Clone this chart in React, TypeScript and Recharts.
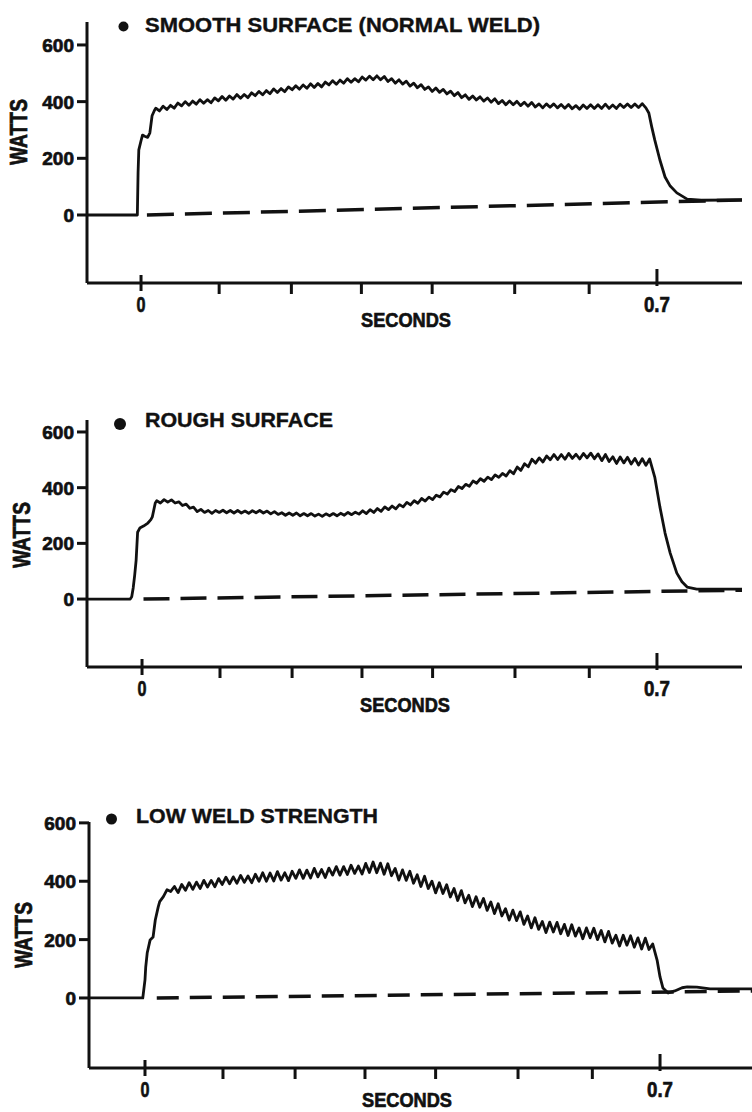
import React from "react";
import { LineChart, Line, XAxis, YAxis, Legend } from "recharts";

// sample grid of the rippling part of every trace (seconds)
const rippleTimes = [
  0.02, 0.025, 0.03, 0.035, 0.04, 0.045, 0.05, 0.055, 0.06, 0.065,
  0.07, 0.075, 0.08, 0.085, 0.09, 0.095, 0.1, 0.105, 0.11, 0.115,
  0.12, 0.125, 0.13, 0.135, 0.14, 0.145, 0.15, 0.155, 0.16, 0.165,
  0.17, 0.175, 0.18, 0.185, 0.19, 0.195, 0.2, 0.205, 0.21, 0.215,
  0.22, 0.225, 0.23, 0.235, 0.24, 0.245, 0.25, 0.255, 0.26, 0.265,
  0.27, 0.275, 0.28, 0.285, 0.29, 0.295, 0.3, 0.305, 0.31, 0.315,
  0.32, 0.325, 0.33, 0.335, 0.34, 0.345, 0.35, 0.355, 0.36, 0.365,
  0.37, 0.375, 0.38, 0.385, 0.39, 0.395, 0.4, 0.405, 0.41, 0.415,
  0.42, 0.425, 0.43, 0.435, 0.44, 0.445, 0.45, 0.455, 0.46, 0.465,
  0.47, 0.475, 0.48, 0.485, 0.49, 0.495, 0.5, 0.505, 0.51, 0.515,
  0.52, 0.525, 0.53, 0.535, 0.54, 0.545, 0.55, 0.555, 0.56, 0.565,
  0.57, 0.575, 0.58, 0.585, 0.59, 0.595, 0.6, 0.605, 0.61, 0.615,
  0.62, 0.625, 0.63, 0.635, 0.64, 0.645, 0.65, 0.655, 0.66, 0.665,
  0.67, 0.675, 0.68, 0.685,
];

// --- smooth surface (normal weld)
const smoothStartTimes = [-0.0733, -0.005, -0.004, -0.003, 0.0, 0.002, 0.005, 0.009, 0.012, 0.015, 0.018];
const smoothStartWatts = [0, 0, 150, 230, 262, 282, 278, 274, 290, 350, 368];
const smoothWatts = [
  377, 367, 384, 372, 387, 377, 395, 385, 400, 387,
  402, 391, 407, 394, 407, 396, 413, 403, 418, 405,
  420, 409, 425, 412, 425, 414, 431, 421, 436, 424,
  439, 428, 445, 432, 446, 435, 452, 442, 456, 444,
  459, 447, 463, 450, 464, 452, 469, 459, 474, 461,
  476, 465, 481, 468, 481, 470, 487, 476, 490, 477,
  491, 477, 489, 471, 481, 465, 477, 462, 472, 455,
  465, 449, 460, 443, 452, 436, 448, 433, 443, 427,
  437, 421, 432, 414, 424, 408, 420, 406, 417, 402,
  413, 398, 410, 393, 404, 389, 402, 389, 401, 386,
  398, 384, 397, 381, 392, 378, 392, 380, 392, 378,
  390, 377, 390, 375, 386, 373, 388, 376, 389, 376,
  389, 376, 391, 376, 388, 376, 391, 379, 392, 379,
  392, 379, 393, 378,
];
const smoothEndTimes = [0.689, 0.693, 0.697, 0.704, 0.711, 0.718, 0.727, 0.741, 0.76, 0.8154];
const smoothEndWatts = [360, 310, 265, 194, 134, 102, 78, 56, 52, 53];
const smoothZeroTimes = [0.008, 0.8154];
const smoothZeroWatts = [0, 53];

// --- rough surface
const roughStartTimes = [-0.0748, -0.016, -0.014, -0.012, -0.01, -0.008, -0.006, -0.003, 0.002, 0.008, 0.012, 0.014, 0.016, 0.018];
const roughStartWatts = [0, 0, 8, 40, 85, 140, 240, 255, 262, 273, 285, 295, 320, 345];
const roughWatts = [
  353, 345, 357, 348, 356, 345, 349, 336, 341, 326,
  330, 314, 322, 311, 318, 308, 318, 311, 319, 310,
  318, 309, 318, 309, 316, 308, 317, 310, 318, 309,
  316, 306, 314, 304, 310, 301, 309, 301, 309, 299,
  307, 299, 307, 298, 305, 297, 306, 299, 307, 299,
  308, 301, 311, 303, 312, 305, 317, 307, 321, 311,
  325, 315, 331, 321, 334, 324, 339, 331, 347, 338,
  353, 344, 361, 352, 366, 357, 373, 367, 384, 377,
  393, 386, 404, 397, 412, 405, 424, 416, 432, 423,
  438, 429, 446, 437, 451, 442, 461, 450, 474, 462,
  486, 475, 502, 488, 507, 492, 514, 500, 519, 501,
  519, 502, 523, 505, 520, 503, 523, 507, 524, 504,
  521, 497, 519, 494, 511, 487, 510, 489, 509, 485,
  505, 481, 504, 480,
];
const roughEndTimes = [0.69, 0.697, 0.704, 0.711, 0.718, 0.727, 0.734, 0.741, 0.754, 0.8156];
const roughEndWatts = [503, 438, 331, 237, 165, 93, 62, 43, 36, 36];
const roughZeroTimes = [0.002, 0.8156];
const roughZeroWatts = [0, 32];

// --- low weld strength
const lowStartTimes = [-0.0761, -0.003, 0.0, 0.001, 0.003, 0.007, 0.011, 0.014, 0.018];
const lowStartWatts = [0, 0, 62, 106, 154, 199, 209, 267, 312];
const lowWatts = [
  330, 347, 371, 365, 382, 361, 389, 369, 395, 372,
  397, 375, 403, 380, 403, 381, 409, 389, 414, 391,
  415, 393, 420, 396, 418, 395, 424, 400, 429, 400,
  428, 401, 433, 404, 429, 402, 434, 410, 439, 410,
  438, 411, 444, 415, 440, 413, 445, 421, 450, 421,
  450, 423, 455, 427, 452, 425, 461, 430, 466, 429,
  462, 424, 460, 419, 444, 404, 439, 403, 434, 393,
  422, 382, 417, 375, 400, 360, 395, 358, 388, 346,
  375, 334, 368, 326, 352, 313, 347, 311, 341, 300,
  329, 289, 323, 281, 306, 267, 301, 265, 295, 252,
  281, 240, 275, 235, 262, 224, 260, 226, 259, 220,
  252, 214, 251, 212, 240, 203, 240, 206, 239, 200,
  231, 192, 228, 188, 215, 178, 215, 181, 213, 174,
  206, 168, 205, 166,
];
const lowEndTimes = [0.69, 0.696, 0.7, 0.704, 0.711, 0.72, 0.73, 0.737, 0.75, 0.768, 0.825];
const lowEndWatts = [185, 130, 72, 34, 17, 24, 35, 38, 37, 31, 31];
const lowZeroTimes = [0.016, 0.825];
const lowZeroWatts = [0, 24];

// tick marks as drawn on the original (only 0 and 0.7 are labelled)
const secondTicks = [0, 0.106, 0.204, 0.299, 0.395, 0.507, 0.608, 0.7];
const wattTicks = [0, 200, 400, 600];

const ink = "#111111";
const font = "'Liberation Sans', Arial, Helvetica, sans-serif";

function toPoints(times: number[], watts: number[]) {
  return times.map((t, i) => ({ t, w: watts[i] }));
}

const panels = [
  {
    title: "SMOOTH SURFACE (NORMAL WELD)",
    trace: [
      ...toPoints(smoothStartTimes, smoothStartWatts),
      ...toPoints(rippleTimes, smoothWatts),
      ...toPoints(smoothEndTimes, smoothEndWatts),
    ],
    zero: toPoints(smoothZeroTimes, smoothZeroWatts),
    dash: "27 11",
    top: 0,
    height: 340,
    margin: { top: 22, right: 10, bottom: 17, left: 27 },
    xDomain: [-0.0733, 0.8154],
    yDomain: [-240, 681],
    bullet: { cx: 123.5, cy: 26.5, r: 5 },
    titleX: 145,
    titleY: 32,
    titleLen: 395,
    watts: { x: 18, y: 132 },
    seconds: { x: 406, y: 327 },
  },
  {
    title: "ROUGH SURFACE",
    trace: [
      ...toPoints(roughStartTimes, roughStartWatts),
      ...toPoints(rippleTimes, roughWatts),
      ...toPoints(roughEndTimes, roughEndWatts),
    ],
    zero: toPoints(roughZeroTimes, roughZeroWatts),
    dash: "26 11",
    top: 380,
    height: 340,
    margin: { top: 40, right: 10, bottom: 13, left: 27 },
    xDomain: [-0.0748, 0.8156],
    yDomain: [-244, 643],
    bullet: { cx: 120, cy: 44, r: 6 },
    titleX: 145,
    titleY: 47,
    titleLen: 188,
    watts: { x: 21, y: 155 },
    seconds: { x: 405, y: 332 },
  },
  {
    title: "LOW WELD STRENGTH",
    trace: [
      ...toPoints(lowStartTimes, lowStartWatts),
      ...toPoints(rippleTimes, lowWatts),
      ...toPoints(lowEndTimes, lowEndWatts),
    ],
    zero: toPoints(lowZeroTimes, lowZeroWatts),
    dash: "22 11",
    top: 780,
    height: 332,
    margin: { top: 42, right: 0, bottom: 4, left: 29 },
    xDomain: [-0.0761, 0.825],
    yDomain: [-240, 603],
    bullet: { cx: 111.5, cy: 39, r: 5.5 },
    titleX: 136,
    titleY: 43,
    titleLen: 242,
    watts: { x: 23, y: 155 },
    seconds: { x: 407, y: 327 },
  },
];

// heavy type: bold plus a thin outline, like the original lettering
const heavy = {
  fontWeight: 700,
  fontFamily: font,
  fill: ink,
  stroke: ink,
  strokeWidth: 0.7,
};

function SecondTick(props: any) {
  const { x, y, payload } = props;
  const v = payload.value;
  const label = v === 0 ? "0" : v === 0.7 ? "0.7" : "";
  const up = v === 0 ? 8 : v === 0.7 ? 14 : 0;
  const down = v === 0 ? 8 : v === 0.7 ? 3 : 11;
  return (
    <g>
      <line x1={x} x2={x} y1={y - up} y2={y + down} stroke={ink} strokeWidth={3} />
      {label && (
        <text
          x={x}
          y={y + 29}
          textAnchor="middle"
          fontSize={22}
          {...heavy}
          textLength={label === "0" ? 9 : 26}
          lengthAdjust="spacingAndGlyphs"
        >
          {label}
        </text>
      )}
    </g>
  );
}

function WattTick(props: any) {
  const { x, y, payload } = props;
  return (
    <g>
      <line x1={x - 10} x2={x} y1={y} y2={y} stroke={ink} strokeWidth={3} />
      <text x={x - 13} y={y + 7} textAnchor="end" fontSize={19} {...heavy}>
        {payload.value}
      </text>
    </g>
  );
}

function Panel({ p }: { p: (typeof panels)[number] }) {
  const wattsLabel = () => (
    <text
      x={p.watts.x}
      y={p.watts.y}
      dy="0.36em"
      transform={`rotate(-90 ${p.watts.x} ${p.watts.y})`}
      textAnchor="middle"
      fontSize={24}
      {...heavy}
      textLength={66}
      lengthAdjust="spacingAndGlyphs"
    >
      WATTS
    </text>
  );
  const secondsLabel = () => (
    <text
      x={p.seconds.x}
      y={p.seconds.y}
      textAnchor="middle"
      fontSize={21}
      {...heavy}
      textLength={90}
      lengthAdjust="spacingAndGlyphs"
    >
      SECONDS
    </text>
  );
  const title = () => (
    <svg width={752} height={60} style={{ display: "block" }}>
      <circle cx={p.bullet.cx} cy={p.bullet.cy} r={p.bullet.r} fill={ink} />
      <text
        x={p.titleX}
        y={p.titleY}
        fontSize={21}
        {...heavy}
        strokeWidth={0.4}
        textLength={p.titleLen}
        lengthAdjust="spacingAndGlyphs"
      >
        {p.title}
      </text>
    </svg>
  );

  return (
    <div style={{ position: "absolute", left: 0, top: p.top }}>
      <LineChart width={752} height={p.height} margin={p.margin}>
        <XAxis
          dataKey="t"
          type="number"
          domain={p.xDomain}
          allowDataOverflow
          ticks={secondTicks}
          interval={0}
          tickSize={0}
          tickMargin={0}
          tickLine={false}
          tick={<SecondTick />}
          height={40}
          axisLine={{ stroke: ink, strokeWidth: 3 }}
          label={{ content: secondsLabel }}
        />
        <YAxis
          dataKey="w"
          type="number"
          domain={p.yDomain}
          allowDataOverflow
          ticks={wattTicks}
          interval={0}
          tickSize={0}
          tickMargin={0}
          tickLine={false}
          tick={<WattTick />}
          width={60}
          axisLine={{ stroke: ink, strokeWidth: 3 }}
          label={{ content: wattsLabel }}
        />
        <Legend
          layout="vertical"
          align="center"
          verticalAlign="middle"
          content={title}
          wrapperStyle={{ top: 0, left: 0, width: 752, height: 60, pointerEvents: "none" }}
        />
        <Line
          data={p.zero}
          dataKey="w"
          type="linear"
          stroke={ink}
          strokeWidth={3.5}
          strokeDasharray={p.dash}
          dot={false}
          activeDot={false}
          isAnimationActive={false}
        />
        <Line
          data={p.trace}
          dataKey="w"
          type="linear"
          stroke={ink}
          strokeWidth={2.8}
          strokeLinejoin="round"
          dot={false}
          activeDot={false}
          isAnimationActive={false}
        />
      </LineChart>
    </div>
  );
}

export default function App() {
  return (
    <div
      style={{
        position: "absolute",
        left: 0,
        top: 0,
        width: 752,
        height: 1112,
        background: "#ffffff",
        overflow: "hidden",
      }}
    >
      {panels.map((p) => (
        <Panel key={p.title} p={p} />
      ))}
    </div>
  );
}
